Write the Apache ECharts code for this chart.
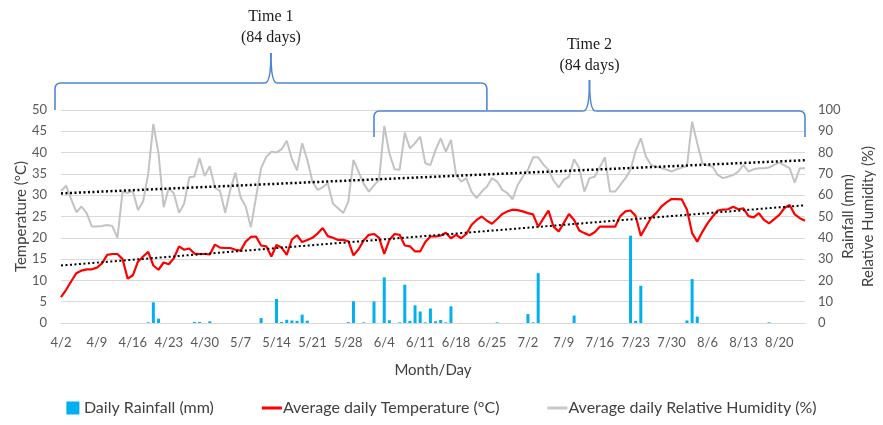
<!DOCTYPE html>
<html>
<head>
<meta charset="utf-8">
<script src="https://cdn.jsdelivr.net/npm/echarts@6/dist/echarts.min.js"></script>
<style>
  html, body { margin: 0; padding: 0; background: #fff; }
  #chart { width: 883px; height: 425px; }
</style>
</head>
<body>
<div id="chart"></div>
<script>
// Daily series, 2 April to 25 August (146 days)
const startDate = [4, 2];
const dayCount = 146;

const temperature = [
  6.1, 7.8, 9.8, 11.7, 12.3, 12.6, 12.6, 13.0, 14.0, 16.0,
  16.2, 16.2, 15.0, 10.4, 11.2, 14.4, 15.6, 16.7, 13.5, 12.5,
  14.2, 13.8, 15.2, 18.0, 17.2, 17.5, 16.3, 16.2, 16.2, 16.1,
  18.4, 17.7, 17.6, 17.6, 17.2, 17.0, 19.1, 20.2, 20.3, 18.2,
  18.0, 15.6, 18.3, 17.7, 16.0, 19.6, 20.6, 19.0, 19.5, 20.0,
  21.0, 22.3, 20.4, 20.0, 19.5, 19.5, 19.2, 15.9, 17.3, 19.4,
  20.7, 20.9, 20.0, 16.2, 19.5, 20.9, 20.7, 18.2, 18.0, 16.8,
  16.8, 19.0, 20.3, 20.3, 20.5, 21.2, 19.9, 20.7, 19.9, 20.9,
  23.0, 24.2, 25.0, 24.0, 23.3, 24.4, 25.6, 26.2, 26.6, 26.5,
  26.2, 25.8, 25.5, 22.6, 24.5, 26.4, 22.6, 21.5, 23.5, 25.6,
  24.2, 21.7, 21.1, 20.6, 21.3, 22.6, 22.6, 22.6, 22.6, 25.1,
  26.2, 26.4, 25.1, 20.5, 22.6, 24.7, 25.8, 27.3, 28.3, 29.1,
  29.1, 29.0, 26.6, 21.1, 19.1, 21.4, 23.4, 25.0, 26.4, 26.6,
  26.7, 27.3, 26.7, 26.9, 25.1, 24.8, 25.8, 24.2, 23.4, 24.4,
  25.4, 27.0, 27.7, 25.5, 24.6, 24.0
];

const humidity = [
  62, 64.4, 58, 52, 54.7, 51.6, 45.3, 45.3, 45.5, 46,
  45.5, 40, 61.7, 61, 62, 53, 57, 70, 93.5, 79.7,
  54.4, 63.3, 60.8, 51.8, 56, 68.4, 68.8, 77.4, 69, 73.6,
  63.5, 62, 51.8, 62.6, 70.6, 59, 54.7, 45, 59, 72.7,
  78, 80.4, 80, 81.6, 85.6, 77, 71.7, 84.4, 76.6, 66.4,
  62.5, 63.7, 65.6, 56, 53.9, 51.6, 57, 76.6, 71, 65.3,
  61.7, 64.6, 67.2, 92.5, 79.7, 72.2, 71.9, 89.4, 82, 84.4,
  87.5, 75, 74.2, 81.3, 86.7, 80.4, 86, 69.5, 66.4, 68,
  61.7, 58.6, 61.7, 64, 68, 66.4, 62.5, 61, 58.1, 64.8,
  68.7, 71.9, 77.8, 77.8, 74.5, 71.9, 66.9, 63.7, 67.2, 68.7,
  76.9, 72.7, 61.7, 68, 68.7, 73.1, 77.8, 61.7, 61.7, 64.8,
  68, 71.9, 80.9, 86.7, 78.1, 74.2, 73.4, 72.7, 72, 71.1,
  72.2, 73, 73.7, 94.5, 84.4, 75, 74, 73.4, 69.5, 68,
  68.7, 69.5, 71.1, 74.2, 71.1, 72.2, 72.7, 72.7, 73, 74.2,
  75.3, 74, 72.7, 65.9, 72.7, 72.7
];

// Rain days: [day index, mm]
const rainfallDays = [
  [17, 0.3], [18, 9.7], [19, 2.0], [26, 0.5], [27, 0.5], [29, 0.8],
  [39, 2.3], [42, 11.3], [43, 0.5], [44, 1.5], [45, 1.2], [46, 1.0],
  [47, 3.9], [48, 1.1], [56, 0.4], [57, 10.2], [59, 0.3], [61, 10.1],
  [63, 21.4], [64, 1.3], [66, 0.3], [67, 18.0], [68, 1.0], [69, 8.3],
  [70, 5.4], [71, 0.3], [72, 6.8], [73, 0.8], [74, 1.4], [75, 0.3],
  [76, 7.8], [85, 0.3], [91, 4.2], [92, 0.3], [93, 23.4], [100, 3.5],
  [111, 41.0], [112, 1.0], [113, 17.5], [122, 1.2], [123, 20.6],
  [124, 3.0], [138, 0.3]
];

const leftTicks = { min: 0, max: 50, interval: 5 };
const rightTicks = { min: 0, max: 100, interval: 10 };

// Two 84-day study windows (first and last day index)
const periods = [
  { title: 'Time 1', note: '(84 days)', first: 0, last: 83 },
  { title: 'Time 2', note: '(84 days)', first: 61, last: 145 }
];

// Category labels M/D
const days = [];
{
  const d0 = new Date(2020, startDate[0] - 1, startDate[1]);
  for (let i = 0; i < dayCount; i++) {
    const d = new Date(d0.getFullYear(), d0.getMonth(), d0.getDate() + i);
    days.push((d.getMonth() + 1) + '/' + d.getDate());
  }
}

const rainfall = days.map(() => 0);
rainfallDays.forEach(([i, v]) => { rainfall[i] = v; });

// Least-squares linear trend, as a spreadsheet trendline
function linearTrend(values) {
  const n = values.length;
  let sx = 0, sy = 0, sxx = 0, sxy = 0;
  values.forEach((y, x) => { sx += x; sy += y; sxx += x * x; sxy += x * y; });
  const b = (n * sxy - sx * sy) / (n * sxx - sx * sx);
  const a = (sy - b * sx) / n;
  return values.map((_, x) => +(a + b * x).toFixed(3));
}

const tempTrend = linearTrend(temperature);
const humTrend = linearTrend(humidity);

const FONT = 'Lato';
const TXT = '#595959';
const GRID = '#d9d9d9';

const chart = echarts.init(document.getElementById('chart'));

const option = {
  animation: false,
  backgroundColor: '#ffffff',
  textStyle: { fontFamily: FONT },
  grid: { left: 61, right: 78, top: 110, bottom: 102, containLabel: false, outerBoundsMode: 'none' },
  legend: {
    bottom: 4,
    left: 'center',
    itemGap: 48,
    itemWidth: 20,
    itemHeight: 13,
    textStyle: { fontFamily: FONT, fontSize: 16, color: '#404040', padding: [0, 0, 0, -4] },
    data: [
      { name: 'Daily Rainfall (mm)', icon: 'path://M0,0H13V13H0Z' },
      { name: 'Average daily Temperature (°C)', icon: 'path://M0,0H20V3H0Z' },
      { name: 'Average daily Relative Humidity (%)', icon: 'path://M0,0H20V3H0Z' }
    ]
  },
  xAxis: {
    type: 'category',
    data: days,
    boundaryGap: false,
    name: 'Month/Day',
    nameLocation: 'middle',
    nameGap: 40,
    nameMoveOverlap: false,
    nameTextStyle: { fontFamily: FONT, fontSize: 15, color: '#404040' },
    axisLine: { lineStyle: { color: GRID, width: 1 } },
    axisTick: { show: false },
    axisLabel: {
      interval: (idx) => idx % 7 === 0,
      color: TXT, fontSize: 13, margin: 13, fontFamily: FONT
    },
    splitLine: { show: false }
  },
  yAxis: [
    {
      type: 'value',
      min: leftTicks.min, max: leftTicks.max, interval: leftTicks.interval,
      name: 'Temperature (°C)',
      nameLocation: 'middle',
      nameGap: 32,
      nameMoveOverlap: false,
      nameTextStyle: { fontFamily: FONT, fontSize: 15, color: '#404040' },
      axisLine: { show: false },
      axisTick: { show: false },
      axisLabel: { color: TXT, fontSize: 13, margin: 14, fontFamily: FONT },
      splitLine: { lineStyle: { color: GRID, width: 1 } }
    },
    {
      type: 'value',
      position: 'right',
      min: rightTicks.min, max: rightTicks.max, interval: rightTicks.interval,
      name: 'Rainfall (mm)\nRelative Humidity (%)',
      nameLocation: 'middle',
      nameRotate: 90,
      nameGap: 33,
      nameMoveOverlap: false,
      nameTextStyle: { fontFamily: FONT, fontSize: 15, color: '#404040', lineHeight: 20 },
      axisLine: { show: false },
      axisTick: { show: false },
      axisLabel: { color: TXT, fontSize: 13, margin: 13, fontFamily: FONT },
      splitLine: { show: false }
    }
  ],
  series: [
    {
      name: 'Daily Rainfall (mm)',
      type: 'bar',
      yAxisIndex: 1,
      data: rainfall,
      barWidth: 3,
      itemStyle: { color: '#00b0f0' },
      z: 1
    },
    {
      name: 'Average daily Relative Humidity (%)',
      type: 'line',
      yAxisIndex: 1,
      data: humidity,
      symbol: 'none',
      lineStyle: { color: '#c3c3c3', width: 2 },
      itemStyle: { color: '#c8c8c8' },
      z: 2
    },
    {
      name: 'Average daily Temperature (°C)',
      type: 'line',
      yAxisIndex: 0,
      data: temperature,
      symbol: 'none',
      lineStyle: { color: '#ff0000', width: 2.2 },
      itemStyle: { color: '#ff0000' },
      z: 3
    },
    {
      name: 'Humidity trend',
      type: 'line',
      yAxisIndex: 1,
      data: humTrend,
      symbol: 'none',
      silent: true,
      lineStyle: { color: '#000000', width: 2.5, type: [2, 2.5], cap: 'butt' },
      z: 4
    },
    {
      name: 'Temperature trend',
      type: 'line',
      yAxisIndex: 0,
      data: tempTrend,
      symbol: 'none',
      silent: true,
      lineStyle: { color: '#000000', width: 2, type: [2, 2.5], cap: 'butt' },
      z: 4
    }
  ]
};

chart.setOption(option);

// Curly brackets marking the study windows above the plot,
// built from straight segments and quadratic corners
function bracketPieces(x0, x1, xm, yLine, yEnd, yPeak, r, style) {
  const dir = yEnd > yLine ? 1 : -1;
  const line = (a, b, c, d) => ({ type: 'line', shape: { x1: a, y1: b, x2: c, y2: d }, style, z: 10 });
  const curve = (a, b, cx, cy, c, d) => ({
    type: 'bezierCurve', shape: { x1: a, y1: b, cpx1: cx, cpy1: cy, x2: c, y2: d }, style, z: 10
  });
  return [
    line(x0, yEnd, x0, yLine + dir * r),
    curve(x0, yLine + dir * r, x0, yLine, x0 + r, yLine),
    line(x0 + r, yLine, xm - r, yLine),
    curve(xm - r, yLine, xm, yLine, xm, yPeak),
    curve(xm, yPeak, xm, yLine, xm + r, yLine),
    line(xm + r, yLine, x1 - r, yLine),
    curve(x1 - r, yLine, x1, yLine, x1, yLine + dir * r),
    line(x1, yLine + dir * r, x1, yEnd)
  ];
}

const topY = chart.convertToPixel({ yAxisIndex: 0 }, leftTicks.max);
const bracketLayout = [
  { lead: 6, line: -27, end: 0, peak: -57, titleY: 17, noteY: 38 },
  { lead: 0, line: 1, end: 27, peak: -30, titleY: 45, noteY: 66 }
];
const strokeStyle = { fill: null, stroke: '#4f86d4', lineWidth: 1.6 };

const graphics = [];
periods.forEach((p, k) => {
  const s = bracketLayout[k];
  const x0 = chart.convertToPixel({ xAxisIndex: 0 }, p.first) - s.lead;
  const x1 = chart.convertToPixel({ xAxisIndex: 0 }, p.last);
  const xm = (x0 + x1) / 2;
  graphics.push(...bracketPieces(x0, x1, xm, topY + s.line, topY + s.end, topY + s.peak, 6, strokeStyle));
  graphics.push({
    type: 'text', x: xm, y: s.titleY,
    style: { text: p.title, font: '16px "Liberation Serif"', fill: '#1a1a1a', textAlign: 'center', textVerticalAlign: 'middle' },
    z: 10
  });
  graphics.push({
    type: 'text', x: xm, y: s.noteY,
    style: { text: p.note, font: '16px "Liberation Serif"', fill: '#1a1a1a', textAlign: 'center', textVerticalAlign: 'middle' },
    z: 10
  });
});

chart.setOption({ graphic: graphics });
</script>
</body>
</html>
